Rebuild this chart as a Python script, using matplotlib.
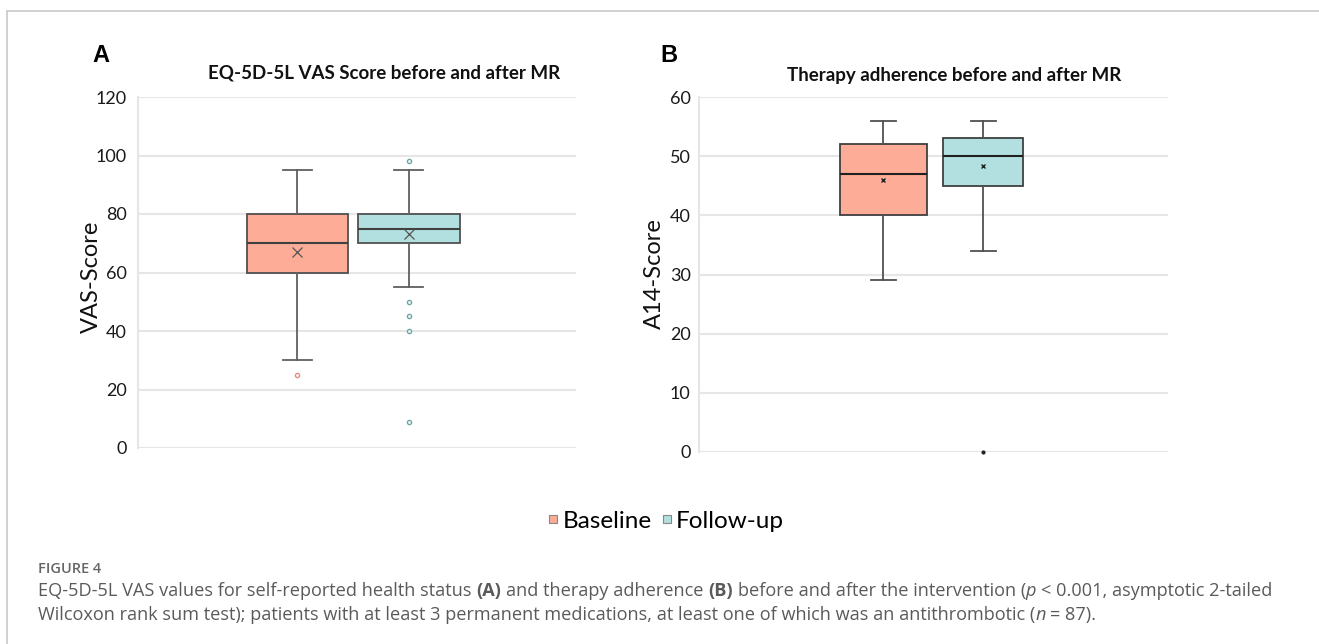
import numpy as np
import matplotlib
matplotlib.use("Agg")
import matplotlib.pyplot as plt
from matplotlib.patches import Rectangle
from matplotlib.lines import Line2D

plt.rcParams['font.family'] = ['Lato', 'DejaVu Sans']

# ---------------- data ----------------
groups = ['Baseline', 'Follow-up']
colors = ['#fdac97', '#b2e0e0']
flier_colors = ['#e08f80', '#6aa8a8']

# panel A: EQ-5D-5L VAS
vas_whislo = [30, 55]
vas_q1 = [60, 70]
vas_med = [70, 75]
vas_q3 = [80, 80]
vas_whishi = [95, 95]
vas_mean = [67, 73]
vas_fliers = [[25], [98, 50, 45, 40, 9]]

# panel B: A14 adherence
a14_whislo = [29, 34]
a14_q1 = [40, 45]
a14_med = [47, 50]
a14_q3 = [52, 53]
a14_whishi = [56, 56]
a14_mean = [46, 48.4]
a14_fliers = [[], [0]]

W, H = 1319, 644
fig = plt.figure(figsize=(W / 100, H / 100), dpi=100)
fig.patch.set_facecolor('white')

# thin frame around the figure panel
fig.add_artist(Rectangle((7 / W, -0.2), 2, 1 - 11 / H + 0.2, transform=fig.transFigure,
                         fill=False, ec='#c8c8c8', lw=1.2))


def make_stats(lo, q1, med, q3, hi, mean, fl):
    out = []
    for i in range(len(lo)):
        out.append(dict(whislo=lo[i], q1=q1[i], med=med[i], q3=q3[i], whishi=hi[i],
                        mean=mean[i], fliers=np.array(fl[i], dtype=float)))
    return out


def style_axes(ax, ymax, step, pad):
    ax.set_ylim(0, ymax)
    ax.set_yticks(np.arange(0, ymax + 1, step))
    ax.set_xticks([])
    for s in ['top', 'right', 'bottom']:
        ax.spines[s].set_visible(False)
    ax.spines['left'].set_color('#e6e6e6')
    ax.spines['left'].set_linewidth(1.5)
    ax.grid(axis='y', color='#e6e6e6', lw=1.5)
    ax.set_axisbelow(True)
    ax.tick_params(axis='y', length=0, labelsize=13, pad=pad, labelcolor='#1a1a1a')


# ---------------- panel A ----------------
axA = fig.add_axes([138 / W, 1 - 448 / H, 438 / W, 351 / H])
statsA = make_stats(vas_whislo, vas_q1, vas_med, vas_q3, vas_whishi, vas_mean, vas_fliers)
for i, st in enumerate(statsA):
    axA.bxp([st], positions=[i + 1], widths=0.91, patch_artist=True, showmeans=True,
            boxprops=dict(facecolor=colors[i], edgecolor='#505050', lw=1.3),
            medianprops=dict(color='#404040', lw=1.5),
            whiskerprops=dict(color='#606060', lw=1.3),
            capprops=dict(color='#606060', lw=1.3), capwidths=0.26,
            meanprops=dict(marker='x', markeredgecolor='#555555', markersize=7, markeredgewidth=0.9),
            flierprops=dict(marker='o', markersize=3, markerfacecolor='white',
                            markeredgecolor=flier_colors[i], markeredgewidth=1.0))
axA.set_xlim(-0.43, 3.50)
style_axes(axA, 120, 20, 8)
axA.set_ylabel('VAS-Score', fontsize=17, color='#111111')
axA.yaxis.set_label_coords(-0.082, 0.487)
fig.text(384 / W, 1 - 73 / H, 'EQ-5D-5L VAS Score before and after MR', ha='center', va='center',
         fontsize=13.5, fontweight='bold', color='#111111')
fig.text(101 / W, 1 - 55 / H, 'A', ha='center', va='center', fontsize=17, fontweight='bold',
         family='Liberation Sans')

# ---------------- panel B ----------------
axB = fig.add_axes([699 / W, 1 - 452 / H, 469 / W, 355 / H])
statsB = make_stats(a14_whislo, a14_q1, a14_med, a14_q3, a14_whishi, a14_mean, a14_fliers)
b_widths = [0.87, 0.80]
for i, st in enumerate(statsB):
    parts = axB.bxp([st], positions=[i + 1], widths=b_widths[i], patch_artist=True, showmeans=True,
                    boxprops=dict(facecolor=colors[i], edgecolor='#404040', lw=1.3),
                    medianprops=dict(color='#202020', lw=1.5),
                    whiskerprops=dict(color='#505050', lw=1.3),
                    capprops=dict(color='#505050', lw=1.3), capwidths=0.25,
                    meanprops=dict(marker='x', markeredgecolor='#222222', markersize=3.5, markeredgewidth=1.0),
                    flierprops=dict(marker='o', markersize=2, markerfacecolor='#222222',
                                    markeredgecolor='#222222'))
    for f in parts['fliers']:
        f.set_clip_on(False)
axB.set_xlim(-0.84, 3.85)
style_axes(axB, 60, 10, 6)
axB.set_ylabel('A14-Score', fontsize=17, color='#111111')
axB.yaxis.set_label_coords(-0.072, 0.503)
fig.text(954 / W, 1 - 75 / H, 'Therapy adherence before and after MR', ha='center', va='center',
         fontsize=13.5, fontweight='bold', color='#111111')
fig.text(669 / W, 1 - 55 / H, 'B', ha='center', va='center', fontsize=17, fontweight='bold',
         family='Liberation Sans')

# ---------------- legend ----------------
handles = [Line2D([], [], ls='none', marker='s', markersize=6, markerfacecolor=colors[i],
                  markeredgecolor='#888888', markeredgewidth=0.8, label=groups[i]) for i in range(2)]
fig.legend(handles=handles, loc='center', bbox_to_anchor=(666 / W, 1 - 521 / H), ncol=2,
           frameon=False, fontsize=17.5, handlelength=0.45, handletextpad=0.15, columnspacing=0.4)

# ---------------- caption ----------------
cap_color = '#5a5a5a'
fig.text(38 / W, 1 - 569 / H, 'FIGURE 4', ha='left', va='center', fontsize=10.5,
         fontweight='semibold', family='Open Sans', color='#666666')

renderer = fig.canvas.get_renderer()


def rich_line(x_px, y_px, runs, size=13.1):
    sp = fig.text(0, 0, 'a a', fontsize=size, family='Open Sans')
    nsp = fig.text(0, 0, 'aa', fontsize=size, family='Open Sans')
    space = sp.get_window_extent(renderer).width - nsp.get_window_extent(renderer).width
    sp.remove()
    nsp.remove()
    x = x_px
    for txt, st in runs:
        lead = len(txt) - len(txt.lstrip(' '))
        trail = len(txt) - len(txt.rstrip(' '))
        x += lead * space
        kw = dict(fontsize=size, family='Open Sans', color=cap_color, ha='left', va='center')
        if st == 'b':
            kw['fontweight'] = 'bold'
        if st == 'i':
            kw['fontstyle'] = 'italic'
        t = fig.text(x / W, 1 - y_px / H, txt.strip(' '), **kw)
        x += t.get_window_extent(renderer).width + trail * space


rich_line(38, 591, [('EQ-5D-5L VAS values for self-reported health status ', 'n'), ('(A)', 'b'),
                    (' and therapy adherence ', 'n'), ('(B)', 'b'),
                    (' before and after the intervention (', 'n'), ('p', 'i'),
                    (' < 0.001, asymptotic 2-tailed', 'n')])
rich_line(38, 615, [('Wilcoxon rank sum test); patients with at least 3 permanent medications, '
                     'at least one of which was an antithrombotic (', 'n'), ('n', 'i'),
                    (' = 87).', 'n')])

fig.savefig('out.png', dpi=100, facecolor='white')
